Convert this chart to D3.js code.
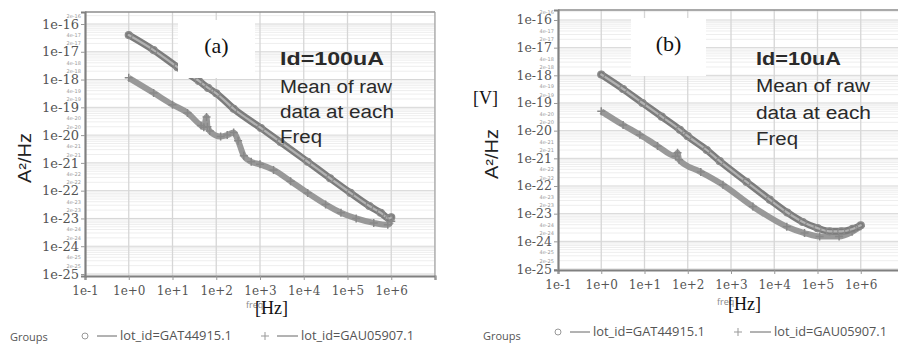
<!DOCTYPE html>
<html>
<head>
<meta charset="utf-8">
<script src="https://cdn.jsdelivr.net/npm/d3@7"></script>
<style>
  body { margin: 0; background: #fff; }
  svg { display: block; }
</style>
</head>
<body>
<div id="chart"></div>
<script>
// x ticks (decades) and y ticks (decades)
const xDecades = [-1, 0, 1, 2, 3, 4, 5, 6]
const xTickLabels = ['1e-1', '1e+0', '1e+1', '1e+2', '1e+3', '1e+4', '1e+5', '1e+6']
const yDecades = [-16, -17, -18, -19, -20, -21, -22, -23, -24, -25]
const yTickLabels = ['1e-16', '1e-17', '1e-18', '1e-19', '1e-20', '1e-21', '1e-22', '1e-23', '1e-24', '1e-25']
const legendLabels = ['lot_id=GAT44915.1', 'lot_id=GAU05907.1']

// panel (a), Id=100uA
const aCircleFreq = [1, 3.7, 13, 40, 65, 100, 250, 1050, 2950, 12300, 40000, 117000, 316000, 575000, 890000, 1000000]
const aCircleVal = [4.0e-17, 1.15e-17, 2.8e-18, 8.9e-19, 5.0e-19, 3.2e-19, 8.9e-20, 1.8e-20, 5.6e-21, 1.1e-21, 2.8e-22, 8.3e-23, 2.8e-23, 1.6e-23, 1.0e-23, 1.1e-23]
const aPlusFreq = [1, 3.7, 10, 22, 45, 52, 60, 63, 71, 126, 178, 250, 316, 427, 630, 1000, 2040, 5000, 12300, 31600, 70800, 158000, 398000, 832000, 1000000]
const aPlusVal = [1.15e-18, 3.3e-19, 1.25e-19, 6.3e-20, 2.2e-20, 1.9e-20, 4.5e-20, 2.0e-20, 1.4e-20, 8.9e-21, 1.0e-20, 1.25e-20, 6.3e-21, 1.8e-21, 1.1e-21, 8.9e-22, 5.6e-22, 2.2e-22, 8.3e-23, 3.2e-23, 1.6e-23, 1.0e-23, 6.9e-24, 5.9e-24, 7.9e-24]

// panel (b), Id=10uA
const bCircleFreq = [1, 3.2, 9, 25, 66, 100, 275, 550, 2300, 7900, 20000, 45700, 100000, 190000, 355000, 650000, 1000000]
const bCircleVal = [1.07e-18, 3.2e-19, 1.0e-19, 3.2e-20, 1.07e-20, 6.3e-21, 2.0e-21, 7.9e-22, 1.4e-22, 3.2e-23, 1.1e-23, 5.0e-24, 3.0e-24, 2.3e-24, 2.3e-24, 2.8e-24, 3.8e-24]
const bPlusFreq = [1, 3.2, 7.8, 20, 52, 58, 63, 200, 650, 3200, 19500, 50000, 112000, 316000, 630000, 1000000]
const bPlusVal = [5.0e-20, 1.6e-20, 7.1e-21, 2.8e-21, 1.2e-21, 1.6e-21, 8.9e-22, 3.2e-22, 1.1e-22, 1.8e-23, 3.4e-24, 2.0e-24, 1.5e-24, 1.5e-24, 2.2e-24, 3.5e-24]

const W = 898, H = 344

const svg = d3.select('#chart')
  .append('svg')
  .attr('width', W)
  .attr('height', H)
  .style('background', '#fff')

const zip = (fs, vs) => fs.map((f, i) => ({ f: f, v: vs[i] }))

const drawPanel = (p) => {
  const x = d3.scaleLog().domain([0.1, 1e7]).range([p.left, p.right])
  const y = d3.scaleLog().domain([p.yBot, p.yTop]).range([p.bottom, p.top])

  const g = svg.append('g')
  const clipId = 'clip-' + p.id
  g.append('clipPath').attr('id', clipId)
    .append('rect')
    .attr('x', p.left).attr('y', p.top)
    .attr('width', p.right - p.left).attr('height', p.bottom - p.top)

  const plot = g.append('g').attr('clip-path', 'url(#' + clipId + ')')

  // minor horizontal grid
  let minor = []
  for (let d = -26; d <= -15; d++) {
    for (let m = 2; m <= 9; m++) minor.push(m * Math.pow(10, d))
  }
  minor = minor.filter(v => v > p.yBot && v < p.yTop)
  plot.selectAll('.hminor').data(minor).enter().append('line')
    .attr('x1', p.left).attr('x2', p.right)
    .attr('y1', d => y(d)).attr('y2', d => y(d))
    .style('stroke', '#eeeeee').style('stroke-width', 1)

  plot.selectAll('.hmajor').data(yDecades).enter().append('line')
    .attr('x1', p.left).attr('x2', p.right)
    .attr('y1', d => y(Math.pow(10, d))).attr('y2', d => y(Math.pow(10, d)))
    .style('stroke', '#d6d6d6').style('stroke-width', 1)

  plot.selectAll('.vmajor').data(xDecades.slice(1).concat([7])).enter().append('line')
    .attr('y1', p.top).attr('y2', p.bottom)
    .attr('x1', d => x(Math.pow(10, d))).attr('x2', d => x(Math.pow(10, d)))
    .style('stroke', '#d6d6d6').style('stroke-width', 1.3)

  const line = d3.line().x(d => x(d.f)).y(d => y(d.v))

  // plus series (drawn first, lower curve)
  const plusData = zip(p.plusFreq, p.plusVal)
  plot.append('path').datum(plusData)
    .attr('d', line.curve(d3.curveMonotoneX))
    .style('fill', 'none').style('stroke', '#8e8e8e')
    .style('stroke-width', 6).style('stroke-linejoin', 'round')
    .style('opacity', 0.9)
  plot.selectAll('.plus').data(plusData).enter().append('path')
    .attr('transform', d => 'translate(' + x(d.f) + ',' + y(d.v) + ')')
    .attr('d', 'M-4,0H4M0,-4V4')
    .style('stroke', '#888').style('stroke-width', 1.5)

  // circle series
  const circData = zip(p.circFreq, p.circVal)
  plot.append('path').datum(circData)
    .attr('d', line.curve(d3.curveMonotoneX))
    .style('fill', 'none').style('stroke', '#7c7c7c')
    .style('stroke-width', 7).style('stroke-linecap', 'round')
  plot.append('path').datum(circData)
    .attr('d', line.curve(d3.curveMonotoneX))
    .style('fill', 'none').style('stroke', '#b2b2b2')
    .style('stroke-width', 2.2).style('stroke-linecap', 'round')
  plot.selectAll('.circ').data(circData).enter().append('circle')
    .attr('cx', d => x(d.f)).attr('cy', d => y(d.v)).attr('r', 3.5)
    .style('fill', 'none').style('stroke', '#8a8a8a').style('stroke-width', 1.2)

  // frame
  g.append('line').attr('x1', p.left).attr('x2', p.right).attr('y1', p.top).attr('y2', p.top)
    .style('stroke', '#8c8c8c').style('stroke-width', 1.5)
  if (p.right < W) {
    g.append('line').attr('x1', p.right).attr('x2', p.right).attr('y1', p.top).attr('y2', p.bottom)
      .style('stroke', '#a0a0a0').style('stroke-width', 1.2)
  }

  // x axis
  const xAxis = d3.axisBottom(x)
    .tickValues(xDecades.map(d => Math.pow(10, d)).concat([1e7]))
    .tickFormat((d, i) => xTickLabels[i] || '')
    .tickSize(4).tickPadding(6)
  const xg = g.append('g').attr('transform', 'translate(0,' + p.bottom + ')').call(xAxis)
  xg.select('.domain').style('stroke', '#808080').style('stroke-width', 2.2)
  xg.selectAll('.tick line').style('stroke', '#999')
  xg.selectAll('.tick text')
    .style('font-family', 'DejaVu Serif').style('font-size', '12px').style('fill', '#555')

  // y axis
  const yAxis = d3.axisLeft(y)
    .tickValues(yDecades.map(d => Math.pow(10, d)))
    .tickFormat((d, i) => yTickLabels[i])
    .tickSize(4).tickPadding(2)
  const yg = g.append('g').attr('transform', 'translate(' + p.left + ',0)').call(yAxis)
  yg.select('.domain').style('stroke', '#808080').style('stroke-width', 2.2)
  yg.selectAll('.tick line').style('stroke', '#999')
  yg.selectAll('.tick text')
    .style('font-family', 'DejaVu Serif').style('font-size', p.yFont + 'px').style('fill', '#555')

  // tiny minor tick labels (2e, 4e)
  let small = []
  for (let d = -26; d <= -15; d++) {
    [4, 2].forEach(m => small.push({ m: m, d: d, v: m * Math.pow(10, d) }))
  }
  small = small.filter(s => s.v > p.yBot && s.v < p.yTop)
  g.selectAll('.small').data(small).enter().append('text')
    .attr('x', p.left - 4).attr('y', s => y(s.v) + 2)
    .attr('text-anchor', 'end')
    .style('font-family', 'DejaVu Sans').style('font-size', '5px').style('fill', '#9a9a9a')
    .text(s => s.m + 'e' + s.d)

  // y label
  g.append('text')
    .attr('transform', 'translate(' + p.yLabelX + ',' + p.yLabelY + ') rotate(-90)')
    .attr('text-anchor', 'middle')
    .attr('textLength', 50).attr('lengthAdjust', 'spacingAndGlyphs')
    .style('font-family', 'Liberation Sans').style('font-size', '18px').style('fill', '#222')
    .text('A²/Hz')

  // x label: faint "freq" under a serif "[Hz]"
  g.append('text').attr('x', p.freqX).attr('y', p.freqY)
    .style('font-family', 'Open Sans').style('font-size', '9px').style('fill', '#888')
    .text('freq')
  g.append('text').attr('x', p.hzX).attr('y', p.hzY)
    .style('font-family', 'Liberation Serif').style('font-size', '18px').style('fill', '#111')
    .text('[Hz]')

  // panel tag in white box
  g.append('rect').attr('x', p.box[0]).attr('y', p.box[1])
    .attr('width', p.box[2]).attr('height', p.box[3]).style('fill', '#fff')
  g.append('text').attr('x', p.box[0] + p.box[2] / 2).attr('y', p.box[1] + 33)
    .attr('text-anchor', 'middle')
    .style('font-family', 'Liberation Serif').style('font-size', '22px').style('fill', '#111')
    .text(p.tag)

  // annotation
  p.note.forEach((t, i) => {
    g.append('text').attr('x', p.noteX).attr('y', p.noteY[i])
      .attr('textLength', p.noteW[i]).attr('lengthAdjust', 'spacingAndGlyphs')
      .style('font-family', 'Liberation Sans').style('font-size', '18px')
      .style('font-weight', i === 0 ? 'bold' : 'normal').style('fill', '#2a2a2a')
      .text(t)
  })

  // legend
  const lg = g.append('g')
  lg.append('text').attr('x', p.legGroupsX).attr('y', p.legGroupsY)
    .style('font-family', 'Open Sans').style('font-size', '11px').style('fill', '#555')
    .text('Groups')
  lg.append('circle').attr('cx', p.leg[0]).attr('cy', p.legY).attr('r', 3)
    .style('fill', 'none').style('stroke', '#999')
  lg.append('line').attr('x1', p.leg[0] + 12).attr('x2', p.leg[0] + 32)
    .attr('y1', p.legY).attr('y2', p.legY).style('stroke', '#666')
  lg.append('text').attr('x', p.leg[0] + 35).attr('y', p.legY + 4)
    .attr('textLength', 112).attr('lengthAdjust', 'spacingAndGlyphs')
    .style('font-family', 'Open Sans').style('font-size', '12.5px').style('fill', '#555')
    .text(legendLabels[0])
  lg.append('path').attr('transform', 'translate(' + p.leg[1] + ',' + p.legY + ')')
    .attr('d', 'M-4,0H4M0,-4V4').style('stroke', '#999')
  lg.append('line').attr('x1', p.leg[1] + 12).attr('x2', p.leg[1] + 33)
    .attr('y1', p.legY).attr('y2', p.legY).style('stroke', '#666')
  lg.append('text').attr('x', p.leg[1] + 36).attr('y', p.legY + 4)
    .attr('textLength', 113).attr('lengthAdjust', 'spacingAndGlyphs')
    .style('font-family', 'Open Sans').style('font-size', '12.5px').style('fill', '#555')
    .text(legendLabels[1])
}

drawPanel({
  id: 'a', left: 85, right: 435, top: 12, bottom: 276,
  yTop: Math.pow(10, -15.568), yBot: Math.pow(10, -25.072), yFont: 13,
  circFreq: aCircleFreq, circVal: aCircleVal, plusFreq: aPlusFreq, plusVal: aPlusVal,
  yLabelX: 31, yLabelY: 158,
  freqX: 246, freqY: 308, hzX: 255, hzY: 314,
  box: [178, 20, 77, 58], tag: '(a)',
  note: ['Id=100uA', 'Mean of raw', 'data at each', 'Freq'],
  noteX: 280, noteY: [65, 93, 118, 143], noteW: [104, 112, 114, 42],
  legGroupsX: 10, legGroupsY: 341, legY: 336, leg: [85, 265]
})

drawPanel({
  id: 'b', left: 558, right: 904, top: 10, bottom: 270,
  yTop: Math.pow(10, -15.639), yBot: Math.pow(10, -25.036), yFont: 12.5,
  circFreq: bCircleFreq, circVal: bCircleVal, plusFreq: bPlusFreq, plusVal: bPlusVal,
  yLabelX: 498, yLabelY: 154,
  freqX: 717, freqY: 305, hzX: 728, hzY: 310,
  box: [631, 18, 75, 58], tag: '(b)',
  note: ['Id=10uA', 'Mean of raw', 'data at each', 'Freq'],
  noteX: 756, noteY: [65, 92, 119, 145], noteW: [85, 114, 115, 42],
  legGroupsX: 483, legGroupsY: 340, legY: 332, leg: [558, 738]
})

// "[V]" tag next to panel (b) y label
svg.append('text').attr('x', 473).attr('y', 104)
  .style('font-family', 'Liberation Serif').style('font-size', '18px').style('fill', '#111')
  .text('[V]')
</script>
</body>
</html>
